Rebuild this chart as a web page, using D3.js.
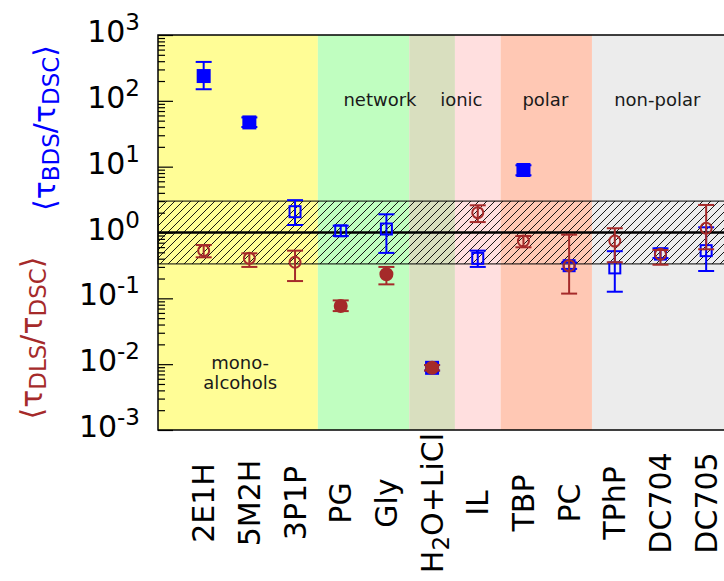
<!DOCTYPE html>
<html>
<head>
<meta charset="utf-8">
<script src="https://cdn.jsdelivr.net/npm/d3@7"></script>
<style>
  body { margin: 0; background: #fff; }
  text { font-family: "DejaVu Sans", sans-serif; }
</style>
</head>
<body>
<script>
// samples, in plot order
var categories = ["2E1H", "5M2H", "3P1P", "PG", "Gly", "H2O+LiCl", "IL", "TBP", "PC", "TPhP", "DC704", "DC705"];

// <tau_BDS / tau_DSC>
var bdsValue = [238, 47, 2.07, 1.06, 1.13, 0.0088, 0.405, 8.9, 0.313, 0.29, 0.47, 0.53];
var bdsLow   = [150, 40, 1.3, 0.885, 0.49, 0.0080, 0.30, 7.4, 0.28, 0.126, 0.41, 0.26];
var bdsHigh  = [390, 56, 3.1, 1.27, 1.89, 0.0097, 0.53, 10.5, 0.35, 0.52, 0.575, 1.2];
var bdsFilled = [true, true, false, false, false, true, false, true, false, false, false, false];

// <tau_DLS / tau_DSC>
var dlsValue = [0.53, 0.405, 0.353, 0.0764, 0.232, 0.0088, 2.0, 0.743, 0.313, 0.74, 0.467, 1.16];
var dlsLow   = [0.42, 0.30, 0.183, 0.064, 0.163, 0.0080, 1.44, 0.596, 0.118, 0.353, 0.324, 0.556];
var dlsHigh  = [0.645, 0.483, 0.53, 0.093, 0.30, 0.0097, 2.59, 0.885, 0.926, 1.16, 0.542, 2.62];
var dlsFilled = [false, false, false, true, true, true, false, false, false, false, false, false];

// shaded groups: [from, to] in category units
var groupSpans = [[0, 3.5], [3.5, 5.5], [5.5, 6.5], [6.5, 7.5], [7.5, 9.5], [9.5, 12.5]];
var groupColors = ["#fffd96", "#c0fec0", "#d9dfbf", "#ffdfdf", "#ffc8b4", "#ececec"];
var groupLabels = [["network", 4.86], ["ionic", 6.64], ["polar", 8.48], ["non-polar", 10.93]];

var band = [1 / 3, 3];
var majorTicks = [1e-3, 1e-2, 1e-1, 1, 10, 100, 1000];
var exponents = ["-3", "-2", "-1", "0", "1", "2", "3"];

var blue = "#0000ff", brown = "#a52a2a";

var svg = d3.select("body").append("svg")
    .attr("width", 724)
    .attr("height", 581);

var x = d3.scaleLinear().domain([0, 12.5]).range([158, 729]);
var y = d3.scaleLog().domain([1e-3, 1e3]).range([430, 35]);

// hatch pattern
var defs = svg.append("defs");
defs.append("pattern")
    .attr("id", "hatch")
    .attr("patternUnits", "userSpaceOnUse")
    .attr("width", 8).attr("height", 8)
  .append("path")
    .attr("d", "M-2,2 L2,-2 M0,8 L8,0 M6,10 L10,6")
    .attr("stroke", "#000")
    .attr("stroke-width", 0.9);

// group backgrounds
svg.append("g").selectAll("rect")
    .data(groupSpans)
    .join("rect")
    .attr("x", d => x(d[0]))
    .attr("y", y(1e3))
    .attr("width", d => x(d[1]) - x(d[0]))
    .attr("height", y(1e-3) - y(1e3))
    .attr("fill", (d, i) => groupColors[i]);

// hatched band 1/3 .. 3
svg.append("rect")
    .attr("x", x(0))
    .attr("y", y(band[1]))
    .attr("width", x(12.5) - x(0))
    .attr("height", y(band[0]) - y(band[1]))
    .attr("fill", "url(#hatch)")
    .attr("stroke", "#000")
    .attr("stroke-width", 1);

svg.append("line")
    .attr("x1", x(0)).attr("x2", x(12.5))
    .attr("y1", y(1)).attr("y2", y(1))
    .attr("stroke", "#000")
    .attr("stroke-width", 2.5);

// group labels
var lab = svg.append("g").attr("font-size", 18).attr("fill", "#1a1a1a").attr("text-anchor", "middle");
groupLabels.forEach(d => {
    lab.append("text").attr("x", x(d[1])).attr("y", 106).text(d[0]);
});
lab.append("text").attr("x", x(1.8)).attr("y", 369).text("mono-");
lab.append("text").attr("x", x(1.8)).attr("y", 389).text("alcohols");

// error bars and markers
function draw_series(vals, lo, hi, filled, color, shape) {
    var g = svg.append("g")
        .attr("stroke", color)
        .attr("stroke-width", 2);
    vals.forEach((v, i) => {
        var cx = x(i + 1);
        g.append("line")
            .attr("x1", cx).attr("x2", cx)
            .attr("y1", y(lo[i])).attr("y2", y(hi[i]));
        [lo[i], hi[i]].forEach(e => {
            g.append("line")
                .attr("x1", cx - 8).attr("x2", cx + 8)
                .attr("y1", y(e)).attr("y2", y(e));
        });
        if (shape == "square") {
            var s = filled[i] ? 12 : 11;
            g.append("rect")
                .attr("x", cx - s / 2).attr("y", y(v) - s / 2)
                .attr("width", s).attr("height", s)
                .attr("fill", filled[i] ? color : "none");
        } else {
            g.append("circle")
                .attr("cx", cx).attr("cy", y(v))
                .attr("r", filled[i] ? 6 : 5.5)
                .attr("fill", filled[i] ? color : "none");
        }
    });
}
draw_series(bdsValue, bdsLow, bdsHigh, bdsFilled, blue, "square");
draw_series(dlsValue, dlsLow, dlsHigh, dlsFilled, brown, "circle");

// minor tick values
var minorTicks = [];
for (var e = -3; e < 3; e++) {
    for (var k = 2; k <= 9; k++) minorTicks.push(k * Math.pow(10, e));
}

// left and right axes, ticks pointing inward
[[d3.axisLeft, -1, 158], [d3.axisRight, 1, 729]].forEach(a => {
    var make = a[0], dir = a[1], pos = a[2];
    svg.append("g")
        .attr("transform", "translate(" + pos + ",0)")
        .call(make(y).tickValues(majorTicks).tickSize(dir * 15).tickFormat(""))
        .call(g => g.select(".domain").remove())
        .selectAll("line").attr("stroke-width", 1.2);
    svg.append("g")
        .attr("transform", "translate(" + pos + ",0)")
        .call(make(y).tickValues(minorTicks).tickSize(dir * 7).tickFormat(""))
        .call(g => g.select(".domain").remove())
        .selectAll("line").attr("stroke-width", 1.2);
});

// border
svg.append("rect")
    .attr("x", 158).attr("y", 35)
    .attr("width", 729 - 158).attr("height", 430 - 35)
    .attr("fill", "none")
    .attr("stroke", "#000")
    .attr("stroke-width", 1.5);

// y tick labels 10^n
var yl = svg.append("g").attr("font-size", 30).attr("text-anchor", "end").attr("fill", "#000");
majorTicks.forEach((t, i) => {
    var txt = yl.append("text").attr("x", 140).attr("y", y(t) + 7);
    txt.append("tspan").text("10");
    txt.append("tspan").attr("font-size", 23).attr("dy", -12).text(exponents[i]);
});

// y titles
function y_title(cx, cy, sub, color) {
    var t = svg.append("text")
        .attr("transform", "translate(" + cx + "," + cy + ") rotate(-90)")
        .attr("text-anchor", "middle")
        .attr("font-size", 30)
        .attr("fill", color);
    t.append("tspan").text("\u27E8\u03C4");
    t.append("tspan").attr("font-size", 23).attr("dy", 4).text(sub);
    t.append("tspan").attr("dy", -4).text("/\u03C4");
    t.append("tspan").attr("font-size", 23).attr("dy", 4).text("DSC");
    t.append("tspan").attr("dy", -4).text("\u27E9");
}
y_title(55, 128, "BDS", blue);
y_title(42, 338, "DLS", brown);

// category labels, rotated
var xl = svg.append("g").attr("font-size", 30).attr("text-anchor", "middle").attr("fill", "#000");
categories.forEach((c, i) => {
    var txt = xl.append("text")
        .attr("transform", "translate(" + x(i + 1) + ",503) rotate(-90)")
        .attr("dy", "0.35em");
    if (c == "H2O+LiCl") {
        txt.append("tspan").text("H");
        txt.append("tspan").attr("font-size", 23).attr("dy", 6).text("2");
        txt.append("tspan").attr("dy", -6).text("O+LiCl");
    } else {
        txt.text(c);
    }
});
</script>
</body>
</html>
